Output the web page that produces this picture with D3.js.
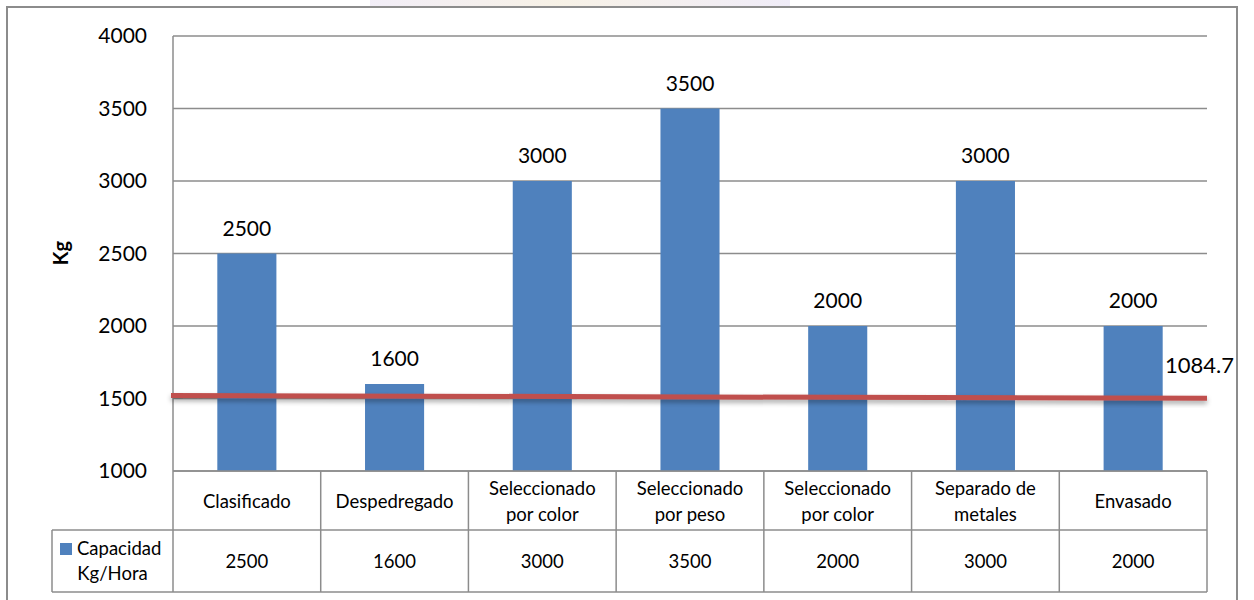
<!DOCTYPE html>
<html>
<head>
<meta charset="utf-8">
<script src="https://cdn.jsdelivr.net/npm/d3@7"></script>
<style>
  body { margin: 0; background: #fff; }
  svg { display: block; font-family: Lato, 'Open Sans', sans-serif; }
</style>
</head>
<body>
<div id="chart"></div>
<script>
// chart data
const categories = [
    ['Clasificado'],
    ['Despedregado'],
    ['Seleccionado', 'por color'],
    ['Seleccionado', 'por peso'],
    ['Seleccionado', 'por color'],
    ['Separado de', 'metales'],
    ['Envasado']
];
const capacidad = [2500, 1600, 3000, 3500, 2000, 3000, 2000];
const seriesName = ['Capacidad', 'Kg/Hora'];
const yTicks = [1000, 1500, 2000, 2500, 3000, 3500, 4000];
const redLine = [1521, 1501];   // left end, right end
const redLineLabel = '1084.7';

const svgWidth = 1254;
const svgHeight = 600;
const margin = { top: 36, right: 47, bottom: 129, left: 173 };
const width = svgWidth - margin.left - margin.right;
const height = svgHeight - margin.top - margin.bottom;
const gridColor = '#8c8c8c';
const barColor = '#4f81bd';
const tableFont = 18.5;

const svg = d3.select('#chart')
    .append('svg')
    .attr('width', svgWidth)
    .attr('height', svgHeight);

const defs = svg.append('defs');
defs.append('filter')
    .attr('id', 'shadow')
    .attr('x', '-5%').attr('y', '-300%')
    .attr('width', '110%').attr('height', '700%')
    .append('feDropShadow')
    .attr('dx', 0).attr('dy', 3)
    .attr('stdDeviation', 2.5)
    .attr('flood-color', '#000')
    .attr('flood-opacity', 0.35);

// faint watermark peeking over the frame
const wm = defs.append('linearGradient').attr('id', 'wm');
wm.append('stop').attr('offset', '0%').attr('stop-color', '#ece6f4');
wm.append('stop').attr('offset', '45%').attr('stop-color', '#f4ecdc');
wm.append('stop').attr('offset', '100%').attr('stop-color', '#e9e4f5');
svg.append('rect')
    .attr('x', 370).attr('y', 0)
    .attr('width', 420).attr('height', 7)
    .attr('fill', 'url(#wm)')
    .attr('opacity', 0.7);

// outer frame
svg.append('rect')
    .attr('x', 7).attr('y', 7)
    .attr('width', 1230).attr('height', 620)
    .attr('fill', 'none')
    .attr('stroke', gridColor)
    .attr('stroke-width', 2);

const bounds = svg.append('g')
    .attr('transform', `translate(${margin.left}, ${margin.top})`);

const xScale = d3.scaleBand()
    .domain(d3.range(categories.length))
    .range([0, width])
    .padding(0);

const yScale = d3.scaleLinear()
    .domain([1000, 4000])
    .range([height, 0]);

// gridlines
bounds.selectAll('.grid')
    .data(yTicks)
    .join('line')
    .attr('class', 'grid')
    .attr('x1', 0)
    .attr('x2', width)
    .attr('y1', d => yScale(d))
    .attr('y2', d => yScale(d))
    .attr('stroke', gridColor)
    .attr('stroke-width', 1.5);

// y axis labels
const yAxisGroup = bounds.append('g')
    .call(d3.axisLeft(yScale)
        .tickValues(yTicks)
        .tickSize(0)
        .tickPadding(26)
        .tickFormat(d => d));
yAxisGroup.select('.domain').remove();
yAxisGroup.selectAll('text')
    .attr('font-family', 'Lato, sans-serif')
    .attr('font-size', 21)
    .attr('fill', '#000');

bounds.append('line')
    .attr('x1', 0).attr('x2', 0)
    .attr('y1', 0).attr('y2', height)
    .attr('stroke', gridColor)
    .attr('stroke-width', 1.5);

svg.append('text')
    .attr('transform', `translate(${68}, ${253}) rotate(-90)`)
    .attr('text-anchor', 'middle')
    .attr('font-size', 20)
    .attr('font-weight', 'bold')
    .text('Kg');

// bars
const barWidth = xScale.bandwidth() * 0.4;
bounds.selectAll('.bar')
    .data(capacidad)
    .join('rect')
    .attr('class', 'bar')
    .attr('x', (d, i) => xScale(i) + (xScale.bandwidth() - barWidth) / 2)
    .attr('y', d => yScale(d))
    .attr('width', barWidth)
    .attr('height', d => height - yScale(d))
    .attr('fill', barColor);

bounds.selectAll('.bar-label')
    .data(capacidad)
    .join('text')
    .attr('class', 'bar-label')
    .attr('x', (d, i) => xScale(i) + xScale.bandwidth() / 2)
    .attr('y', d => yScale(d) - 18)
    .attr('text-anchor', 'middle')
    .attr('font-size', 21)
    .text(d => d);

// red reference line
const xEnds = [-2, width];
bounds.append('line')
    .attr('x1', xEnds[0]).attr('x2', xEnds[1])
    .attr('y1', yScale(redLine[0]))
    .attr('y2', yScale(redLine[1]))
    .attr('stroke', '#c0504d')
    .attr('stroke-width', 5)
    .attr('filter', 'url(#shadow)');

bounds.append('text')
    .attr('x', width - 42)
    .attr('y', yScale(redLine[1]) - 25)
    .attr('font-size', 22)
    .text(redLineLabel);

// data table
const row1 = height;
const row2 = height + 59;
const row3 = height + 121;
const legendLeft = 52 - margin.left;
const tableLines = bounds.append('g')
    .attr('stroke', gridColor)
    .attr('stroke-width', 1.5);

tableLines.append('line')
    .attr('x1', 0).attr('x2', width)
    .attr('y1', row1).attr('y2', row1);
tableLines.append('line')
    .attr('x1', legendLeft).attr('x2', width)
    .attr('y1', row2).attr('y2', row2);
tableLines.append('line')
    .attr('x1', legendLeft).attr('x2', width)
    .attr('y1', row3).attr('y2', row3);
tableLines.append('line')
    .attr('x1', legendLeft).attr('x2', legendLeft)
    .attr('y1', row2).attr('y2', row3);
tableLines.selectAll('.vline')
    .data(d3.range(categories.length + 1))
    .join('line')
    .attr('class', 'vline')
    .attr('x1', i => i * xScale.step())
    .attr('x2', i => i * xScale.step())
    .attr('y1', row1)
    .attr('y2', row3);

const catText = bounds.selectAll('.cat')
    .data(categories)
    .join('text')
    .attr('class', 'cat')
    .attr('text-anchor', 'middle')
    .attr('font-size', tableFont)
    .attr('fill', '#000');
catText.each(function(lines, i) {
    const cx = xScale(i) + xScale.bandwidth() / 2;
    const mid = (row1 + row2) / 2;
    const lh = 26;
    lines.forEach((t, k) => {
        d3.select(this).append('tspan')
            .attr('x', cx)
            .attr('y', mid + 7 + (k - (lines.length - 1) / 2) * lh)
            .text(t);
    });
});

bounds.selectAll('.val')
    .data(capacidad)
    .join('text')
    .attr('class', 'val')
    .attr('x', (d, i) => xScale(i) + xScale.bandwidth() / 2)
    .attr('y', (row2 + row3) / 2 + 7)
    .attr('text-anchor', 'middle')
    .attr('font-size', tableFont)
    .text(d => d);

// legend cell
bounds.append('rect')
    .attr('x', legendLeft + 8)
    .attr('y', row2 + 13)
    .attr('width', 12)
    .attr('height', 12)
    .attr('fill', barColor);
bounds.append('text')
    .attr('x', legendLeft + 25)
    .attr('y', row2 + 25)
    .attr('font-size', tableFont)
    .text(seriesName[0]);
bounds.append('text')
    .attr('x', legendLeft / 2)
    .attr('y', row2 + 50)
    .attr('text-anchor', 'middle')
    .attr('font-size', tableFont)
    .text(seriesName[1]);
</script>
</body>
</html>
